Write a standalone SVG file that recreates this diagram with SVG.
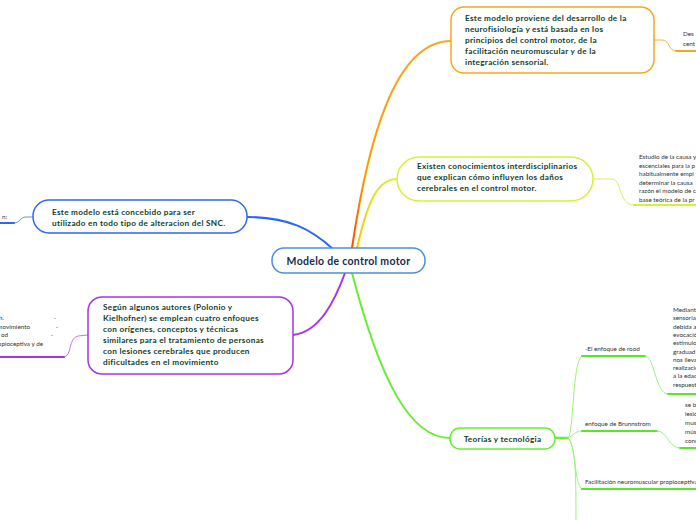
<svg xmlns="http://www.w3.org/2000/svg" width="696" height="520" viewBox="0 0 696 520">
<defs>
<style>
.nt{font-family:Lato,"Open Sans","Liberation Sans",sans-serif;font-weight:700;font-size:8.2px;letter-spacing:0.3px;fill:#103d2e}
.ct{font-family:Lato,"Open Sans","Liberation Sans",sans-serif;font-weight:700;font-size:10.5px;letter-spacing:0.3px;fill:#1a2b4c}
.st{font-family:Lato,"Open Sans","Liberation Sans",sans-serif;font-weight:400;font-size:6.3px;fill:#333}
.box{fill:#fff;stroke-width:1.5}
.c{fill:none;stroke-linecap:round}
</style>
<linearGradient id="gOr" gradientUnits="userSpaceOnUse" x1="352" y1="248" x2="451" y2="41">
<stop offset="0" stop-color="#ff4a00"/><stop offset="0.3" stop-color="#ff9a00"/><stop offset="1" stop-color="#f6a623"/>
</linearGradient>
<linearGradient id="gYe" gradientUnits="userSpaceOnUse" x1="357" y1="248" x2="397" y2="179">
<stop offset="0" stop-color="#ffc400"/><stop offset="1" stop-color="#d8ef3a"/>
</linearGradient>
</defs>
<rect width="696" height="520" fill="#fff"/>

<g id="connectors">
<path class="c" d="M352,248 C368,140 395,41 451,41" stroke="url(#gOr)" stroke-width="2"/>
<path class="c" d="M357,248 C368,200 378,179 397,179" stroke="url(#gYe)" stroke-width="2"/>
<path class="c" d="M333,249 C312,230 290,217 247,217" stroke="#2f66f0" stroke-width="2"/>
<path class="c" d="M345,273 C335,300 320,332 293,335" stroke="#a833ee" stroke-width="2"/>
<path class="c" d="M352,273 C380,380 410,438 450,438" stroke="#66ee33" stroke-width="2"/>
<path class="c" d="M654,40 L662,40 C670,40 668,51 676,51" stroke="#f8b040" stroke-width="1"/>
<path class="c" d="M676,51 L696,51" stroke="#f6a623" stroke-width="2"/>
<path class="c" d="M593,179 L612,179 C622,179 618,205 634,205" stroke="#dcef5a" stroke-width="1"/>
<path class="c" d="M634,205 L696,205" stroke="#d8ef3a" stroke-width="2"/>
<path class="c" d="M33,217 L26,217 C20,217 20,223 14,223" stroke="#6a90f0" stroke-width="1"/>
<path class="c" d="M0,223 L14,223" stroke="#2f66f0" stroke-width="2"/>
<path class="c" d="M88,335 L78,336 C68,338 72,357 64,357" stroke="#c07af0" stroke-width="1"/>
<path class="c" d="M0,357 L64,357" stroke="#a833ee" stroke-width="2"/>
<path class="c" d="M555,438 L568,438" stroke="#66ee33" stroke-width="2.5"/>
<path class="c" d="M568,438 C574,436 572,360 582,356" stroke="#9cf27e" stroke-width="1"/>
<path class="c" d="M582,356 L645,356" stroke="#55e62d" stroke-width="2"/>
<path class="c" d="M645,356 C655,356 655,394 668,394" stroke="#9cf27e" stroke-width="1"/>
<path class="c" d="M668,394 L696,394" stroke="#55e62d" stroke-width="2"/>
<path class="c" d="M568,438 C574,436 574,431 582,431" stroke="#9cf27e" stroke-width="1"/>
<path class="c" d="M582,431 L657,431" stroke="#55e62d" stroke-width="2"/>
<path class="c" d="M657,431 C668,431 668,448 680,448" stroke="#9cf27e" stroke-width="1"/>
<path class="c" d="M680,448 L696,448" stroke="#55e62d" stroke-width="2"/>
<path class="c" d="M568,438 C576,442 574,486 582,489" stroke="#9cf27e" stroke-width="1"/>
<path class="c" d="M582,489 L696,489" stroke="#55e62d" stroke-width="2"/>
<path class="c" d="M568,438 C576,444 576,480 576,520" stroke="#9cf27e" stroke-width="1"/>
</g>

<g id="center">
<rect class="box" x="272" y="248" width="153" height="25" rx="12" stroke="#4a8fd8"/>
<text class="ct" x="348.5" y="264.5" text-anchor="middle">Modelo de control motor</text>
</g>

<g id="n-neuro">
<rect class="box" x="451" y="7" width="203" height="66" rx="13" stroke="#f6a623"/>
<text class="nt" x="465" y="21">Este modelo proviene del desarrollo de la</text>
<text class="nt" x="465" y="32">neurofisiología y está basada en los</text>
<text class="nt" x="465" y="43">principios del control motor, de la</text>
<text class="nt" x="465" y="54">facilitación neuromuscular y de la</text>
<text class="nt" x="465" y="65">integración sensorial.</text>
</g>

<g id="n-neuro-sub">
<text class="st" x="683" y="36">Des</text>
<text class="st" x="683" y="46">cent</text>
</g>

<g id="n-conoc">
<rect class="box" x="397" y="157" width="196" height="44" rx="22" stroke="#d8ef3a"/>
<text class="nt" x="417" y="169">Existen conocimientos interdisciplinarios</text>
<text class="nt" x="417" y="180">que explican  cómo influyen los daños</text>
<text class="nt" x="417" y="191">cerebrales en el control motor.</text>
</g>

<g id="n-conoc-sub">
<text class="st" x="639" y="159">Estudio de la causa y</text>
<text class="st" x="639" y="167.5">escenciales para la p</text>
<text class="st" x="639" y="176">habitualmente empl</text>
<text class="st" x="639" y="184.5">determinar la causa</text>
<text class="st" x="639" y="193">razón el modelo de c</text>
<text class="st" x="639" y="201.5">base teórica de la pr</text>
</g>

<g id="n-snc">
<rect class="box" x="33" y="200" width="214" height="33" rx="16" stroke="#2f66f0"/>
<text class="nt" x="52" y="215">Este modelo está concebido para ser</text>
<text class="nt" x="52" y="226">utilizado en todo tipo de alteracion del SNC.</text>
</g>

<g id="n-snc-sub">
<text class="st" x="7" y="219" text-anchor="end">n:</text>
</g>

<g id="n-autores">
<rect class="box" x="88" y="297" width="205" height="77" rx="14" stroke="#a833ee"/>
<text class="nt" x="103" y="310">Según algunos autores (Polonio y</text>
<text class="nt" x="103" y="321">Kielhofner) se emplean cuatro enfoques</text>
<text class="nt" x="103" y="332">con orígenes, conceptos y técnicas</text>
<text class="nt" x="103" y="343">similares para el tratamiento de personas</text>
<text class="nt" x="103" y="354">con lesiones cerebrales que producen</text>
<text class="nt" x="103" y="365">dificultades en el movimiento</text>
</g>

<g id="n-autores-sub">
<text class="st" x="4" y="320" text-anchor="end">h.</text>
<text class="st" x="56" y="320" text-anchor="end">-</text>
<text class="st" x="30" y="328.5" text-anchor="end">movimiento</text>
<text class="st" x="58" y="328.5" text-anchor="end">-</text>
<text class="st" x="8" y="337" text-anchor="end">od</text>
<text class="st" x="53" y="337" text-anchor="end">-</text>
<text class="st" x="43" y="345.5" text-anchor="end">propioceptiva y de</text>
</g>

<g id="n-teorias">
<rect class="box" x="450" y="428" width="105" height="21" rx="10" stroke="#66ee33"/>
<text class="nt" x="502.5" y="441.5" text-anchor="middle">Teorías y tecnológia</text>
</g>

<g id="n-rood">
<text class="st" x="585" y="351">-El enfoque de rood</text>
<text class="st" x="673" y="312">Mediant</text>
<text class="st" x="673" y="320.3">sensoria</text>
<text class="st" x="673" y="328.6">debida a</text>
<text class="st" x="673" y="336.9">evocació</text>
<text class="st" x="673" y="345.2">estímulo</text>
<text class="st" x="673" y="353.5">graduad</text>
<text class="st" x="673" y="361.8">nos lleva</text>
<text class="st" x="673" y="370.1">realizació</text>
<text class="st" x="673" y="378.4">a la edad</text>
<text class="st" x="673" y="386.7">respuest</text>
</g>

<g id="n-brunnstrom">
<text class="st" x="585" y="426">enfoque de Brunnstrom</text>
<text class="st" x="685" y="407">se b</text>
<text class="st" x="685" y="416">lesió</text>
<text class="st" x="685" y="425">mus</text>
<text class="st" x="685" y="434">músc</text>
<text class="st" x="685" y="443">conc</text>
</g>

<g id="n-fnp">
<text class="st" x="585" y="484">Facilitación neuromuscular propioceptiva</text>
</g>
</svg>
